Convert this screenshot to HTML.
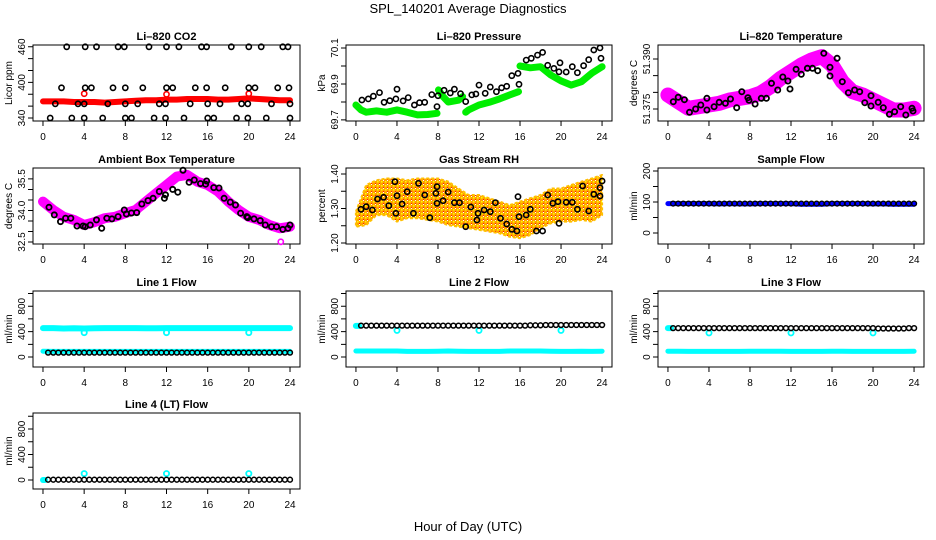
<!DOCTYPE html>
<html><head><meta charset="utf-8">
<style>
html,body{margin:0;padding:0;background:#fff;}
svg{display:block;font-family:"Liberation Sans",Arial,sans-serif;}
</style></head>
<body>
<svg id="chart" width="936" height="540" viewBox="0 0 936 540" xmlns="http://www.w3.org/2000/svg">
<defs>
<pattern id="rhpat" width="4" height="4" patternUnits="userSpaceOnUse">
<rect width="4" height="4" fill="#ffa200"/><rect x="1" y="1" width="1.5" height="1.5" fill="#ffff00"/><rect x="3" y="3" width="1" height="1" fill="#ff2000"/><rect x="3" y="0" width="1" height="1" fill="#ffffff"/>
</pattern>
</defs>
<text x="468" y="13" text-anchor="middle" font-size="13">SPL_140201  Average Diagnostics</text>
<text x="468" y="531" text-anchor="middle" font-size="13">Hour of Day (UTC)</text>
</svg>
<script>
// ---------- data ----------
const hours25 = [0,1,2,3,4,5,6,7,8,9,10,11,12,13,14,15,16,17,18,19,20,21,22,23,24];
const halfHours = [0.5,1,1.5,2,2.5,3,3.5,4,4.5,5,5.5,6,6.5,7,7.5,8,8.5,9,9.5,10,10.5,11,11.5,12,12.5,13,13.5,14,14.5,15,15.5,16,16.5,17,17.5,18,18.5,19,19.5,20,20.5,21,21.5,22,22.5,23,23.5,24];
const xTicks = [0,4,8,12,16,20,24];
const xTickLabels = ['0','4','8','12','16','20','24'];

// CO2
const co2RedVals = [368,368,368,367,367,367,366,367,368,369,370,370,371,371,372,372,372,371,371,372,373,372,371,370,370];
const co2RedOutHours = [4,12,20];
const co2RedOutVals = [381,380,381];
const co2BlackHours = [2.3,4.1,5.2,7.3,7.9,10.3,12.0,13.2,15.4,15.9,18.3,20.0,21.2,23.3,23.8,
 1.8,4.1,4.7,6.8,8.0,9.7,12.0,12.6,14.8,15.9,17.7,20.0,20.6,22.8,23.9,
 1.2,3.4,4.0,6.3,8.0,9.2,11.3,11.9,14.3,16.0,17.2,19.3,19.9,22.2,24.0,
 0.7,2.8,4.0,5.8,8.0,8.6,10.8,11.9,13.7,16.0,16.6,18.8,19.9,21.7,24.0];
const co2BlackVals = [460,460,460,460,460,460,460,460,460,460,460,460,460,460,460,
 391,391,391,391,391,391,391,391,391,391,391,391,391,391,391,
 364,364,364,364,364,364,364,364,364,364,364,364,364,364,364,
 340,340,340,340,340,340,340,340,340,340,340,340,340,340,340];

// Pressure
const presGreenHours = [0,0.5,1,2,3,4,5,6,7,7.9,null,8.05,8.5,9,10,10.4,null,10.7,11,12,13,14,15,15.85,null,16,17,18,19,20,21,22,23,24];
const presGreenVals = [69.783,69.756,69.743,69.75,69.743,69.756,69.743,69.728,69.73,69.737,null,69.867,69.83,69.80,69.81,69.83,null,69.743,69.756,69.783,69.798,69.817,69.839,69.857,null,70.0,69.99,69.996,69.95,69.917,69.894,69.913,69.96,69.996];
const presBlackHours = [0.58,1.2,1.7,2.3,2.75,3.3,3.9,4.0,4.6,5.1,5.7,6.2,6.7,7.4,7.9,8.0,8.6,9.2,9.6,10.2,10.7,11.3,11.7,12.0,12.6,13.1,13.7,14.2,14.7,15.2,15.8,15.9,16.6,17.1,17.7,18.2,18.7,19.3,19.8,19.9,20.5,21.1,21.6,22.2,22.7,23.2,23.8,23.9];
const presBlackVals = [69.811,69.817,69.832,69.852,69.798,69.807,69.817,69.871,69.806,69.824,69.783,69.796,69.798,69.841,69.774,69.835,69.865,69.85,69.871,69.846,69.802,69.839,69.844,69.894,69.848,69.883,69.857,69.879,69.887,69.946,69.959,69.898,70.033,70.043,70.061,70.076,70.004,69.987,69.968,70.018,69.967,69.996,69.963,70.002,70.035,70.089,70.101,70.043];

// Li-820 temperature
const tempMagVals = [51.3792,51.3772,51.3752,51.3757,51.3762,51.3767,51.3777,51.3782,51.3787,51.3797,51.3817,51.3842,51.3862,51.3882,51.3897,51.3907,51.3882,51.3832,51.3802,51.3792,51.3777,51.3762,51.3747,51.3747,51.3752];
const tempBlackHours = [0.52,1.0,1.6,2.1,2.7,3.2,3.8,3.8,4.5,5.0,5.6,6.1,6.7,7.2,7.8,7.9,8.5,9.1,9.6,10.1,10.7,11.2,11.7,11.9,12.5,13.0,13.6,14.1,14.6,15.2,15.8,15.8,16.5,17.0,17.6,18.2,18.7,19.2,19.8,19.8,20.5,21.0,21.6,22.1,22.7,23.2,23.8,23.9];
const tempBlackVals = [51.3772,51.3785,51.3778,51.3740,51.3750,51.3762,51.3782,51.3747,51.3757,51.3770,51.3767,51.3780,51.3754,51.3802,51.3784,51.3776,51.3765,51.3782,51.3782,51.3827,51.3807,51.3846,51.3834,51.3810,51.3869,51.3854,51.3872,51.3872,51.3865,51.3917,51.3875,51.3849,51.3902,51.3832,51.3799,51.3807,51.3802,51.3769,51.3790,51.3759,51.3770,51.3754,51.3734,51.3742,51.3757,51.3732,51.3752,51.3744];

// Ambient box temperature
const ambMagVals = [34.42,34.02,33.7,33.55,33.31,33.44,33.63,33.7,33.87,34.02,34.42,34.82,35.21,35.61,35.69,35.37,35.21,34.9,34.42,34.02,33.7,33.55,33.31,33.15,33.23];
const ambOutHours = [23.1];
const ambOutVals = [32.51];
const ambBlackHours = [0.58,1.1,1.7,2.2,2.7,3.3,3.9,4.1,4.6,5.2,5.7,6.2,6.7,7.3,7.9,8.1,8.6,9.1,9.6,10.2,10.7,11.3,11.8,11.9,12.6,13.1,13.6,14.2,14.7,15.3,15.8,15.9,16.6,17.1,17.6,18.2,18.7,19.2,19.8,19.9,20.5,21.1,21.6,22.2,22.7,23.3,23.8,24.0];
const ambBlackVals = [34.15,33.79,33.47,33.63,33.63,33.26,33.26,33.23,33.31,33.55,33.15,33.63,33.6,33.71,34.02,33.83,33.88,33.9,34.31,34.47,34.58,34.9,34.58,34.74,35.0,34.87,35.91,35.34,35.45,35.28,35.25,35.4,35.09,35.07,34.58,34.4,34.26,33.87,33.71,33.66,33.6,33.52,33.31,33.23,33.23,33.1,33.15,33.31];

// Gas stream RH
const rhUpper = [1.291,1.368,1.382,1.387,1.387,1.382,1.387,1.387,1.387,1.378,1.358,1.339,1.339,1.33,1.32,1.31,1.32,1.33,1.339,1.358,1.358,1.368,1.378,1.387,1.397];
const rhLower = [1.247,1.252,1.281,1.281,1.262,1.272,1.272,1.267,1.262,1.252,1.247,1.243,1.238,1.233,1.228,1.218,1.214,1.223,1.243,1.257,1.262,1.262,1.267,1.262,1.281];
const rhBlackHours = [0.49,1.0,1.6,2.1,2.7,3.2,3.8,3.9,4.0,4.5,5.0,5.6,6.1,6.7,7.2,7.8,7.9,7.9,8.5,9.0,9.6,10.1,10.7,11.2,11.8,11.9,12.5,13.1,13.6,14.1,14.7,15.2,15.7,15.8,15.9,16.6,17.0,17.6,18.2,18.7,19.2,19.7,19.8,20.5,21.1,21.6,22.1,22.7,23.2,23.8,23.8,24.0];
const rhBlackVals = [1.2977,1.3052,1.2957,1.3275,1.3324,1.3081,1.3777,1.2861,1.3371,1.313,1.3487,1.2861,1.373,1.3391,1.2733,1.344,1.315,1.3632,1.3226,1.3478,1.3168,1.3168,1.2473,1.3043,1.2667,1.2861,1.2957,1.2907,1.3168,1.2716,1.2551,1.2397,1.2348,1.3342,1.2763,1.2812,1.2977,1.2348,1.2348,1.3391,1.315,1.3197,1.2571,1.318,1.318,1.2977,1.3652,1.2928,1.3411,1.3362,1.3603,1.3797];

// Sample flow
const sampleBlueVals = [95,95,95,95,95,94,95,94,94,95,95,95,95,93,93,93,95,95,95,95,94,94,93,93,93];
const sampleBlackVals = [95,95,95,95,95,95,95,95,95,95,95,95,95,95,95,95,95,95,95,95,95,95,95,95,95,95,95,95,95,95,95,95,95,95,95,95,95,95,95,95,95,95,95,95,95,95,95,95];

// Line 1 flow
const line1CyanHi = [455,455,450,452,450,452,455,455,455,455,452,452,455,455,455,455,455,455,455,455,455,455,455,455,455];
const line1CyanLo = [90,88,88,88,88,88,88,88,88,88,88,88,88,88,88,88,88,88,88,88,88,88,88,88,88];
const line1Black = [70,70,70,70,70,70,70,70,70,70,70,70,70,70,70,70,70,70,70,70,70,70,70,70,70,70,70,70,70,70,70,70,70,70,70,70,70,70,70,70,70,70,70,70,70,70,70,70];
const dipHours = [4,12,20];
const line1DipVals = [385,385,385];

// Line 2 flow
const line2CyanLo = [95,95,95,95,95,88,88,88,92,95,92,88,88,88,88,95,95,95,95,92,88,88,92,88,92];
const line2StartHours = [0,0.3];
const line2StartVals = [490,490];
const line2Black = [495,495,495,495,495,495,495,495,495,495,495,495,495,495,495,495,495,495,495,495,495,495,495,495,495,495,495,495,495,495,495,495,495,500,500,500,505,505,505,505,505,505,505,505,505,505,505,505];
const line2DipVals = [420,420,420];

// Line 3 flow
const line3CyanLo = [92,92,88,88,88,88,88,88,92,92,92,92,88,88,88,88,92,92,88,88,88,88,88,88,90];
const line3StartHours = [0,0.3];
const line3StartVals = [455,455];
const line3Black = [455,455,455,455,455,455,455,455,455,455,455,455,455,455,455,455,455,455,455,455,455,455,455,455,455,455,455,455,455,455,455,455,455,455,455,455,455,455,455,455,450,450,450,450,450,450,455,455];
const line3DipVals = [380,380,380];

// Line 4 flow
const line4StartHours = [0,0.2];
const line4StartVals = [0,0];
const line4Black = [5,5,5,5,5,5,5,5,5,5,5,5,5,5,5,5,5,5,5,5,5,5,5,5,5,5,5,5,5,5,5,5,5,5,5,5,5,5,5,5,5,5,5,5,5,5,5,5];
const line4DipVals = [100,100,100];

// ---------- layout ----------
const NS = 'http://www.w3.org/2000/svg';
const svg = document.getElementById('chart');
const XD = [-0.97, 24.97];
const flowTicks = [0,200,400,600,800,1000];
const flowLabels = [0,400,800];
const panels = {
  co2:  {key:'co2-panel', title:'Li\u2013820 CO2', ylab:'Licor ppm', box:[33,300,45,121], dom:[335,463], ticks:[340,360,380,400,420,440,460], labels:[340,400,460], fmt:0},
  pres: {key:'pressure-panel', title:'Li\u2013820 Pressure', ylab:'kPa', box:[346,612,45,121], dom:[69.694,70.117], ticks:[69.7,69.8,69.9,70.0,70.1], labels:[69.7,69.9,70.1], fmt:1},
  temp: {key:'li820-temperature-panel', title:'Li\u2013820 Temperature', ylab:'degrees C', box:[658,924,45,121], dom:[51.3714,51.3942], ticks:[51.375,51.38,51.385,51.39], labels:[51.375,51.39], fmt:3},
  amb:  {key:'ambient-temperature-panel', title:'Ambient Box Temperature', ylab:'degrees C', box:[33,300,168,244], dom:[32.405,36.02], ticks:[32.5,33,33.5,34,34.5,35,35.5], labels:[32.5,34,35.5], fmt:1},
  rh:   {key:'gas-rh-panel', title:'Gas Stream RH', ylab:'percent', box:[346,612,168,244], dom:[1.1971,1.4174], ticks:[1.2,1.25,1.3,1.35,1.4], labels:[1.2,1.3,1.4], fmt:2},
  samp: {key:'sample-flow-panel', title:'Sample Flow', ylab:'ml/min', box:[658,924,168,244], dom:[-35.5,209.7], ticks:[0,50,100,150,200], labels:[0,100,200], fmt:0},
  l1:   {key:'line1-flow-panel', title:'Line 1 Flow', ylab:'ml/min', box:[33,300,291,367], dom:[-157,1040], ticks:flowTicks, labels:flowLabels, fmt:0},
  l2:   {key:'line2-flow-panel', title:'Line 2 Flow', ylab:'ml/min', box:[346,612,291,367], dom:[-157,1040], ticks:flowTicks, labels:flowLabels, fmt:0},
  l3:   {key:'line3-flow-panel', title:'Line 3 Flow', ylab:'ml/min', box:[658,924,291,367], dom:[-157,1040], ticks:flowTicks, labels:flowLabels, fmt:0},
  l4:   {key:'line4-flow-panel', title:'Line 4 (LT) Flow', ylab:'ml/min', box:[33,300,413,489], dom:[-141,1051], ticks:flowTicks, labels:flowLabels, fmt:0}
};
function X(p,h){ return p.box[0] + (h - XD[0])/(XD[1]-XD[0])*(p.box[1]-p.box[0]); }
function Y(p,v){ return p.box[3] - (v - p.dom[0])/(p.dom[1]-p.dom[0])*(p.box[3]-p.box[2]); }

function el(parent, tag){ const e = document.createElementNS(NS, tag); parent.appendChild(e); return e; }

function drawFrame(p){
  const g = el(svg,'g');
  
  
  p.g = g;
  const [l,r,t,b] = p.box;
  const t1 = el(g,'text');
  
  
  t1.setAttribute('x', (l+r)/2); t1.setAttribute('y', t-5);
  t1.setAttribute('text-anchor','middle'); t1.setAttribute('font-size','11'); t1.setAttribute('font-weight','bold');
  t1.textContent = p.title;
  const yl = el(g,'text');
  
  
  const yc = (t+b)/2;
  yl.setAttribute('transform', 'translate('+(l-21)+','+yc+') rotate(-90)');
  yl.setAttribute('text-anchor','middle'); yl.setAttribute('font-size','10');
  yl.textContent = p.ylab;
  const ya = el(g,'path');
  
  
  let d = 'M'+(l)+' '+Y(p,p.ticks[0])+'V'+Y(p,p.ticks[p.ticks.length-1]);
  p.ticks.forEach(v => { d += 'M'+(l-5)+' '+Y(p,v)+'H'+l; });
  ya.setAttribute('d', d); ya.setAttribute('stroke','#000'); ya.setAttribute('fill','none');
  p.labels.forEach(v => {
    const tx = el(g,'text');
    
    
    tx.setAttribute('transform','translate('+(l-8)+','+Y(p,v)+') rotate(-90)');
    tx.setAttribute('text-anchor','middle'); tx.setAttribute('font-size','10');
    tx.textContent = v.toFixed(p.fmt);
  });
  const xa = el(g,'path');
  
  
  let dx = 'M'+X(p,xTicks[0])+' '+b+'H'+X(p,xTicks[xTicks.length-1]);
  xTicks.forEach(h => { dx += 'M'+X(p,h)+' '+b+'v5'; });
  xa.setAttribute('d', dx); xa.setAttribute('stroke','#000'); xa.setAttribute('fill','none');
  xTicks.forEach((h,i) => {
    const tx = el(g,'text');
    
    
    tx.setAttribute('x', X(p,h)); tx.setAttribute('y', b+19);
    tx.setAttribute('text-anchor','middle'); tx.setAttribute('font-size','10');
    tx.textContent = xTickLabels[i];
  });
  const rc = el(g,'rect');
  
  
  rc.setAttribute('x', l); rc.setAttribute('y', t); rc.setAttribute('width', r-l); rc.setAttribute('height', b-t);
  rc.setAttribute('fill','none'); rc.setAttribute('stroke','#000');
}

function band(p, hs, vs, color, w, name){
  let d = '', pen = false;
  for (let i=0;i<hs.length;i++){
    if (hs[i]===null || vs[i]===null){ pen=false; continue; }
    d += (pen?'L':'M') + X(p,hs[i]).toFixed(1)+' '+Y(p,vs[i]).toFixed(1);
    pen = true;
  }
  const e = el(p.g,'path');
  
  
  e.setAttribute('d', d); e.setAttribute('fill','none'); e.setAttribute('stroke', color);
  e.setAttribute('stroke-width', w); e.setAttribute('stroke-linejoin','round'); e.setAttribute('stroke-linecap','round');
}

function points(p, hs, vs, color, r, sw, name){
  for (let i=0;i<hs.length;i++){
    const c = el(p.g,'circle');
    
    
    c.setAttribute('cx', X(p,hs[i]).toFixed(1)); c.setAttribute('cy', Y(p,vs[i]).toFixed(1));
    c.setAttribute('r', r); c.setAttribute('fill','none'); c.setAttribute('stroke', color); c.setAttribute('stroke-width', sw);
  }
}

Object.values(panels).forEach(drawFrame);

band(panels.co2, hours25, co2RedVals, '#ff0000', 6, 'co2-red-series');
points(panels.co2, co2RedOutHours, co2RedOutVals, '#ff0000', 2.6, 1.6, 'co2-red-outlier');
points(panels.co2, co2BlackHours, co2BlackVals, '#000', 2.6, 1.6, 'co2-hourly-point');
band(panels.pres, presGreenHours, presGreenVals, '#00ee00', 7, 'pressure-green-series');
points(panels.pres, presBlackHours, presBlackVals, '#000', 2.6, 1.6, 'pressure-point');
band(panels.temp, hours25, tempMagVals, '#ff00ff', 15, 'temperature-magenta-series');
points(panels.temp, tempBlackHours, tempBlackVals, '#000', 2.6, 1.8, 'temperature-point');
band(panels.amb, hours25, ambMagVals, '#ff00ff', 10, 'ambient-magenta-series');
points(panels.amb, ambOutHours, ambOutVals, '#ff00ff', 2.6, 1.6, 'ambient-outlier');
points(panels.amb, ambBlackHours, ambBlackVals, '#000', 2.6, 1.8, 'ambient-point');
(function(){
  const p = panels.rh;
  let d = '';
  hours25.forEach((h,i)=>{ d += (i?'L':'M') + X(p,h).toFixed(1)+' '+Y(p,rhUpper[i]).toFixed(1); });
  for (let i=hours25.length-1;i>=0;i--){ d += 'L' + X(p,hours25[i]).toFixed(1)+' '+Y(p,rhLower[i]).toFixed(1); }
  d += 'Z';
  const e = el(p.g,'path');
  
  
  e.setAttribute('d', d); e.setAttribute('fill','url(#rhpat)'); e.setAttribute('stroke','#ffc000'); e.setAttribute('stroke-width','2'); e.setAttribute('stroke-dasharray','3 2'); e.setAttribute('stroke-linejoin','round');
})();
points(panels.rh, rhBlackHours, rhBlackVals, '#000', 2.6, 1.6, 'rh-point');
band(panels.samp, hours25, sampleBlueVals, '#0000ff', 5, 'sample-flow-blue');
points(panels.samp, halfHours, sampleBlackVals, '#000', 2.4, 1.4, 'sample-flow-point');
band(panels.l1, hours25, line1CyanHi, '#00ffff', 6, 'line1-cyan-upper');
band(panels.l1, hours25, line1CyanLo, '#00ffff', 5, 'line1-cyan-lower');
points(panels.l1, dipHours, line1DipVals, '#00ffff', 2.6, 1.8, 'line1-cyan-dip');
points(panels.l1, halfHours, line1Black, '#000', 2.4, 1.5, 'line1-flow-point');
band(panels.l2, hours25, line2CyanLo, '#00ffff', 5, 'line2-cyan-lower');
band(panels.l2, line2StartHours, line2StartVals, '#00ffff', 6, 'line2-cyan-start');
points(panels.l2, dipHours, line2DipVals, '#00ffff', 2.6, 1.8, 'line2-cyan-dip');
points(panels.l2, halfHours, line2Black, '#000', 2.4, 1.5, 'line2-flow-point');
band(panels.l3, hours25, line3CyanLo, '#00ffff', 5, 'line3-cyan-lower');
band(panels.l3, line3StartHours, line3StartVals, '#00ffff', 6, 'line3-cyan-start');
points(panels.l3, dipHours, line3DipVals, '#00ffff', 2.6, 1.8, 'line3-cyan-dip');
points(panels.l3, halfHours, line3Black, '#000', 2.4, 1.5, 'line3-flow-point');
band(panels.l4, line4StartHours, line4StartVals, '#00ffff', 6, 'line4-cyan-start');
points(panels.l4, dipHours, line4DipVals, '#00ffff', 2.6, 1.8, 'line4-cyan-dip');
points(panels.l4, halfHours, line4Black, '#000', 2.4, 1.5, 'line4-flow-point');
</script>
</body></html>
